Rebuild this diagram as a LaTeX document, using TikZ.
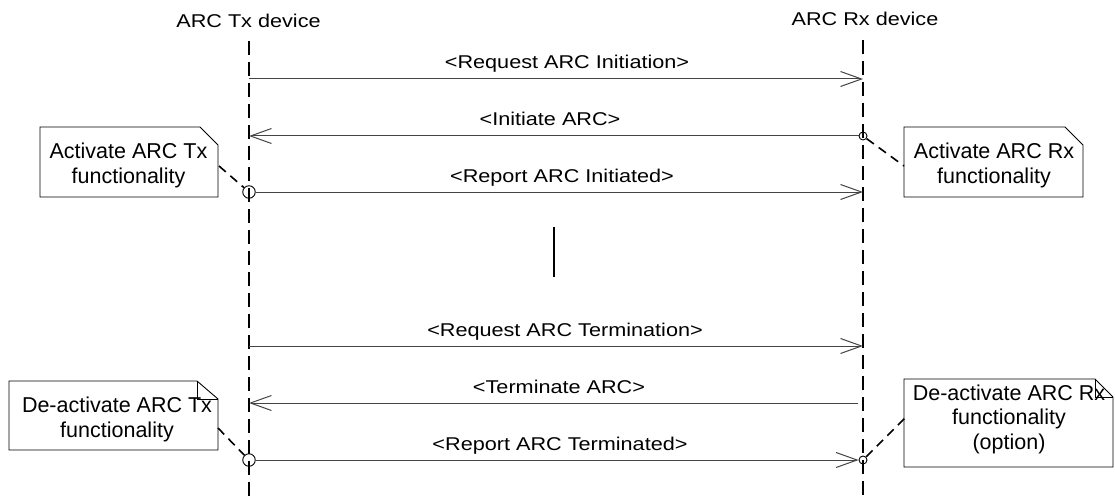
\documentclass[tikz,border=0pt]{standalone}
\usepackage{fontspec}
\setmainfont{Liberation Sans}
\newfontfamily\lblfont{Liberation Sans}[FakeStretch=1.17]
\usetikzlibrary{arrows.meta}
\definecolor{msggray}{HTML}{444444}
\begin{document}
\begin{tikzpicture}[x=1pt,y=-1pt,
  lifeline/.style={line width=1.8pt, dash pattern=on 14pt off 7pt},
  msg/.style={draw=msggray, line width=1pt, -{Straight Barb[length=21pt,width=15pt,line width=1pt]}},
  lbl/.style={font=\lblfont\fontsize{18.5}{21}\selectfont, anchor=base, inner sep=0pt},
  notebox/.style={draw=black, line width=0.9pt},
  notetext/.style={font=\fontsize{21.5}{24.5}\selectfont, align=center, inner sep=0pt},
  link/.style={line width=1.6pt, dash pattern=on 9pt off 6pt},
  focus/.style={draw, circle, line width=0.9pt, inner sep=0pt},
  bigfocus/.style={focus, minimum size=12.5pt},
  smallfocus/.style={focus, minimum size=8pt}
]
\useasboundingbox (0,0) rectangle (1115,497);

% headers
\node[lbl] (txh) at (248.5,28) {ARC Tx device};
\node[lbl] (rxh) at (865,26) {ARC Rx device};

% lifelines
\coordinate (txtop) at (249,41);
\coordinate (txbot) at (249,497);
\coordinate (rxtop) at (863,40);
\coordinate (rxbot) at (863,497);
\draw[lifeline] (txtop) -- (txbot);
\draw[lifeline] (rxtop) -- (rxbot);

% activation circles
\node[smallfocus] (c2r) at (863,136) {};
\node[bigfocus] (c3t) at (249,192) {};
\node[bigfocus] (c6t) at (249,460) {};
\node[smallfocus] (c6r) at (863,460) {};

% message end points
\coordinate (t1) at (249,79);   \coordinate (r1) at (863,79);
\coordinate (t2) at (249,136);
\coordinate (r3) at (863,192);
\coordinate (t4) at (249,346);  \coordinate (r4) at (863,346);
\coordinate (t5) at (249,403);  \coordinate (r5) at (858,403);

% messages
\draw[msg] (t1) -- (r1);
\node[lbl] (m1) at (567,69) {<Request ARC Initiation>};
\draw[msg] (c2r) -- (t2);
\node[lbl] (m2) at (550,126) {<Initiate ARC>};
\draw[msg] (c3t) -- (r3);
\node[lbl] (m3) at (562,182.5) {<Report ARC Initiated>};
\draw[msg] (t4) -- (r4);
\node[lbl] (m4) at (565,336) {<Request ARC Termination>};
\draw[msg] (r5) -- (t5);
\node[lbl] (m5) at (559,393) {<Terminate ARC>};
\draw[msg] (c6t) -- (c6r);
\node[lbl] (m6) at (560,450) {<Report ARC Terminated>};

% pause bar
\coordinate (bartop) at (554,227);
\coordinate (barbot) at (554,277);
\draw[line width=1.8pt] (bartop) -- (barbot);

% note: Activate ARC Tx
\draw[notebox] (40,127) -- (200,127) -- (218,145) -- (218,197) -- (40,197) -- cycle;
\node[notetext] (n1) at (128.5,165.6) {Activate ARC Tx\\functionality};
\coordinate (n1l) at (219,166);
\draw[link] (n1l) -- (c3t);

% note: Activate ARC Rx
\draw[notebox] (904,127) -- (1065,127) -- (1083,145) -- (1083,197) -- (904,197) -- cycle;
\node[notetext] (n2) at (994,165.6) {Activate ARC Rx\\functionality};
\coordinate (n2l) at (904,166);
\draw[link] (c2r) -- (n2l);

% note: De-activate ARC Tx
\draw[notebox] (9,381) -- (197,381) -- (218,399) -- (218,450) -- (9,450) -- cycle;
\draw[notebox] (197,381) -- (197,399) -- (218,399);
\node[notetext] (n3) at (117,419.6) {De-activate ARC Tx\\functionality};
\coordinate (n3l) at (218,428);
\draw[link] (n3l) -- (c6t);

% note: De-activate ARC Rx
\draw[notebox] (904,379) -- (1095,379) -- (1113,397) -- (1113,467) -- (904,467) -- cycle;
\draw[notebox] (1095,379) -- (1095,397) -- (1113,397);
\node[notetext] (n4) at (1009,419) {De-activate ARC Rx\\functionality\\(option)};
\coordinate (n4l) at (905,418);
\draw[link] (c6r) -- (n4l);
\end{tikzpicture}
\end{document}
